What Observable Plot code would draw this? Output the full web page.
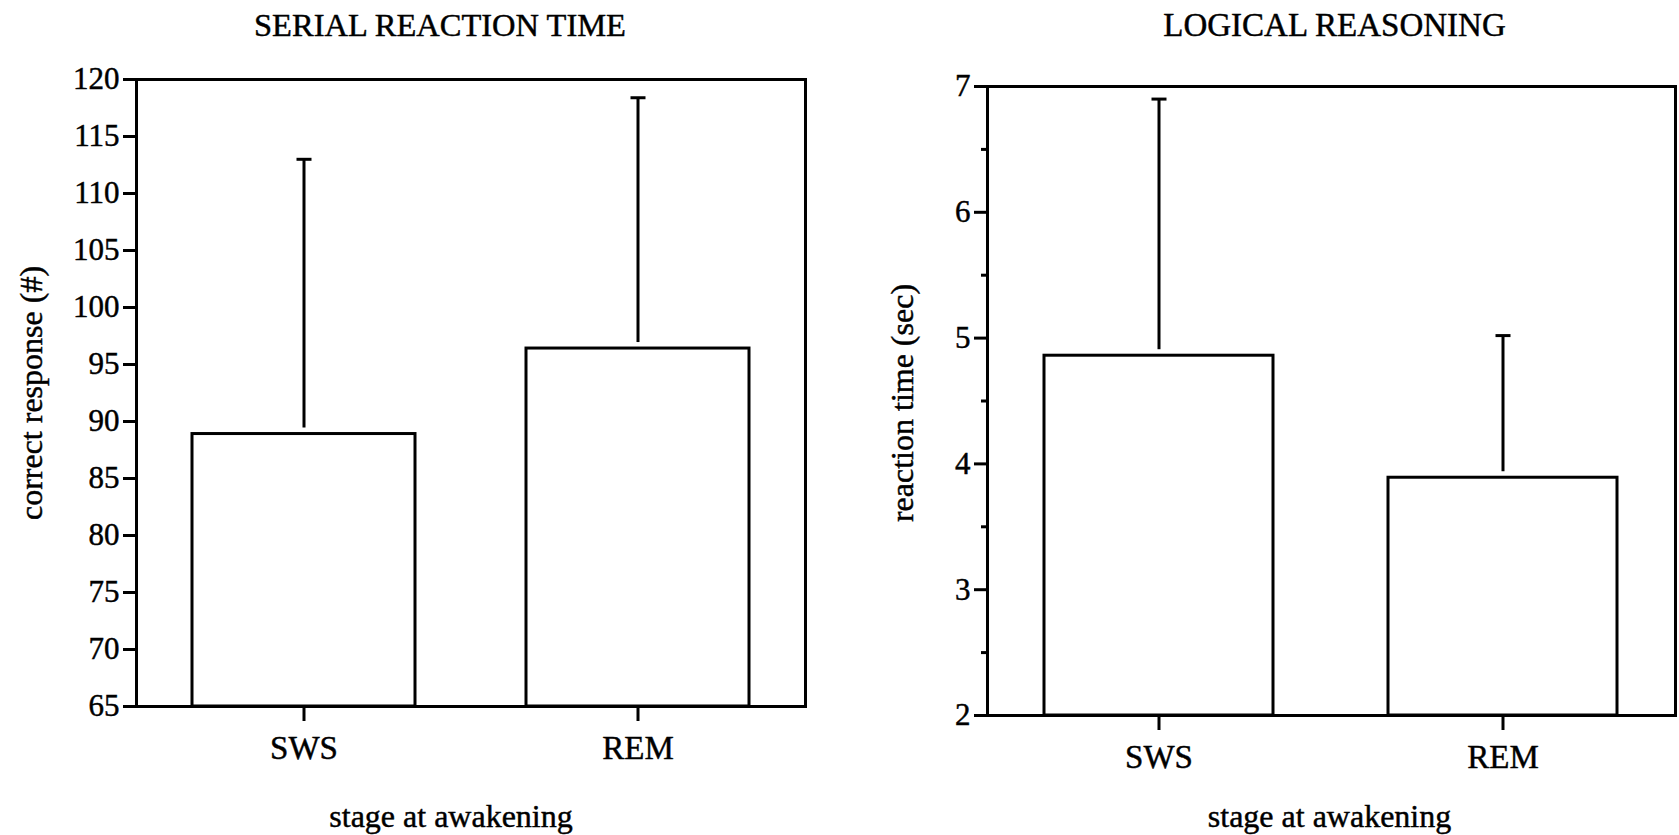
<!DOCTYPE html>
<html>
<head>
<meta charset="utf-8">
<script src="https://cdn.jsdelivr.net/npm/d3@7"></script>
<script src="https://cdn.jsdelivr.net/npm/@observablehq/plot@0.6"></script>
<style>
  html, body { margin: 0; padding: 0; background: #fff; overflow: hidden; }
  #charts { display: flex; width: 1679px; height: 835px; }
  #charts svg { display: block; }
  #charts svg text { stroke: black; stroke-width: 0.45px; }
</style>
</head>
<body>
<div id="charts"></div>
<script>
// Stage at awakening (shared categories)
const stages = ["SWS", "REM"];

// Serial reaction time: correct responses (#), mean and top of the error bar
const serialMean = [88.9, 96.4];
const serialUpper = [113.0, 118.4];
const serialDomain = [65, 120];
const serialTicks = [65, 70, 75, 80, 85, 90, 95, 100, 105, 110, 115, 120];

// Logical reasoning: reaction time (sec), mean and top of the error bar
const logicalMean = [4.86, 3.89];
const logicalUpper = [6.90, 5.02];
const logicalDomain = [2, 7];
const logicalTicks = [2, 3, 4, 5, 6, 7];
const logicalMinorTicks = [2.5, 3.5, 4.5, 5.5, 6.5];

const FONT = "'Liberation Serif', 'Times New Roman', Times, serif";

// Horizontal cap drawn at the top of each error bar
const capSymbol = {
  draw(context, size) {
    const w = Math.sqrt(size / Math.PI);
    context.moveTo(-w, 0);
    context.lineTo(w, 0);
  }
};

function panel({title, titleDx, titleSize, yLabel, yLabelDx, yLabelDy, xLabelDx, xLabelDy,
                means, uppers, domain, ticks, minorTicks,
                width, marginLeft, marginRight, marginTop, marginBottom}) {
  const rows = stages.map((s, i) => ({stage: s, mean: means[i], upper: uppers[i]}));
  const marks = [
    Plot.barY(rows, {
      x: "stage", y1: () => domain[0], y2: "mean",
      fill: "white", stroke: "black", strokeWidth: 3
    }),
    // error bar: from just above the bar top up to the upper value
    Plot.ruleX(rows, {x: "stage", y1: "upper", y2: "mean", stroke: "black", strokeWidth: 3, insetBottom: 6}),
    Plot.dot(rows, {x: "stage", y: "upper", symbol: capSymbol, r: 7.5, stroke: "black", strokeWidth: 3}),
    Plot.axisY({
      ticks, tickSize: 13, tickPadding: 4, strokeWidth: 3,
      tickFormat: d3.format("d"),
      fontSize: 31, label: null
    }),
    Plot.axisX({
      tickSize: 15, tickPadding: 14, strokeWidth: 3,
      fontSize: 33, label: null
    }),
    Plot.frame({stroke: "black", strokeWidth: 3}),
    Plot.text([title], {
      frameAnchor: "top", dx: titleDx, dy: -marginTop + 25, lineAnchor: "middle",
      fontSize: titleSize, fill: "black"
    }),
    Plot.text([yLabel], {
      frameAnchor: "left", dx: yLabelDx, dy: yLabelDy, rotate: -90,
      textAnchor: "middle", lineAnchor: "middle",
      fontSize: 32, fill: "black"
    }),
    Plot.text(["stage at awakening"], {
      frameAnchor: "bottom", dx: xLabelDx, dy: xLabelDy, lineAnchor: "middle",
      fontSize: 32, fill: "black"
    })
  ];
  if (minorTicks) {
    marks.splice(4, 0, Plot.axisY({
      ticks: minorTicks, tickSize: 6, strokeWidth: 3,
      tickFormat: () => "", label: null
    }));
  }
  return Plot.plot({
    width, height: 835,
    marginLeft, marginRight, marginTop, marginBottom,
    style: {fontFamily: FONT, color: "black", background: "white", overflow: "visible"},
    x: {type: "band", domain: stages, paddingInner: 0.333, paddingOuter: 0.1665, label: null},
    y: {domain, label: null},
    marks
  });
}

const left = panel({
  title: "SERIAL REACTION TIME", titleDx: -31, titleSize: 32.5,
  yLabel: "correct response (#)", yLabelDx: -105, yLabelDy: 0,
  xLabelDx: -20, xLabelDy: 110,
  means: serialMean, uppers: serialUpper, domain: serialDomain, ticks: serialTicks,
  width: 840, marginLeft: 136, marginRight: 35, marginTop: 79, marginBottom: 129
});

const right = panel({
  title: "LOGICAL REASONING", titleDx: 3, titleSize: 33,
  yLabel: "reaction time (sec)", yLabelDx: -85, yLabelDy: 2,
  xLabelDx: -2, xLabelDy: 101,
  means: logicalMean, uppers: logicalUpper, domain: logicalDomain, ticks: logicalTicks,
  minorTicks: logicalMinorTicks,
  width: 839, marginLeft: 147, marginRight: 4, marginTop: 86, marginBottom: 120
});

const root = document.getElementById("charts");
root.appendChild(left);
root.appendChild(right);
</script>
</body>
</html>
